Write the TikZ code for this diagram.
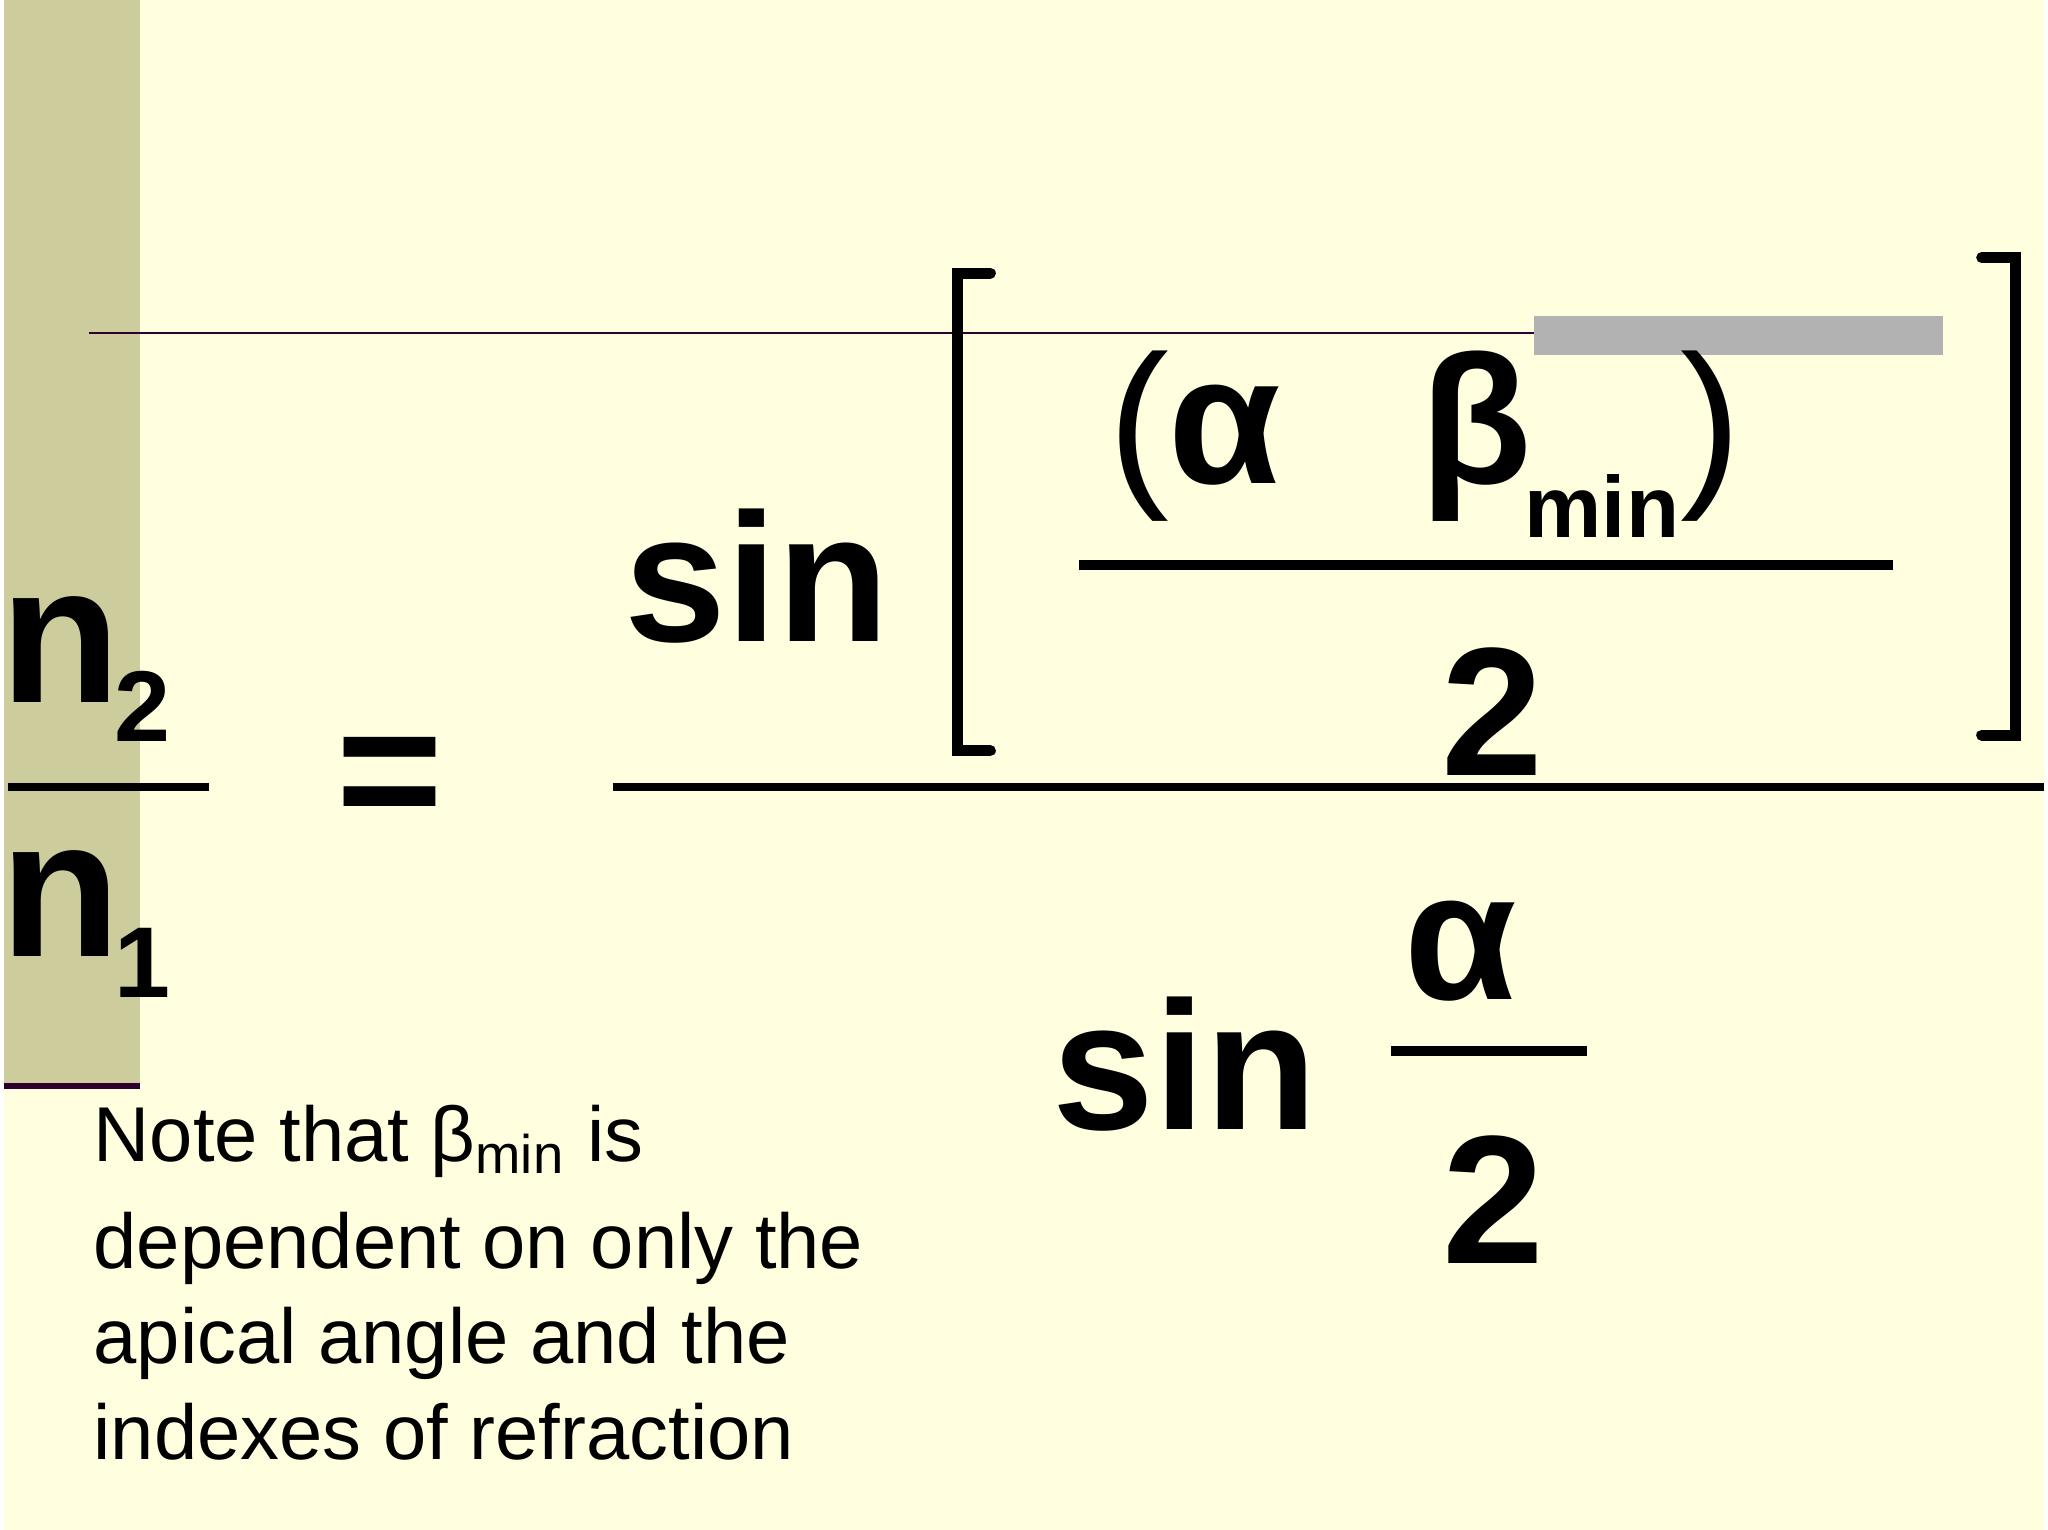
\documentclass[tikz,border=0pt]{standalone}
\usepackage{fontspec}
\setmainfont{Liberation Sans}
\begin{document}
\begin{tikzpicture}[x=0.01cm,y=-0.01cm,
  big/.style={inner sep=0pt,anchor=base west,font=\bfseries\fontsize{40}{48}\selectfont},
  par/.style={inner sep=0pt,anchor=base west,font=\fontsize{40}{48}\selectfont},
  nn/.style={inner sep=0pt,anchor=base west,font=\bfseries\fontsize{43}{50}\selectfont},
  sub/.style={inner sep=0pt,anchor=base west,font=\bfseries\fontsize{22}{28}\selectfont},
  msub/.style={inner sep=0pt,anchor=base west,font=\bfseries\fontsize{19}{24}\selectfont},
  note/.style={inner sep=0pt,anchor=base west,font=\fontsize{17}{21}\selectfont},
  bar/.style={line width=2.2pt},
  brk/.style={line width=2.4pt,line cap=round}]
\definecolor{bg}{RGB}{255,255,224}
\definecolor{strip}{RGB}{204,204,156}
\definecolor{dpur}{RGB}{45,0,45}
\fill[bg] (0,0) rectangle (1568,1176);
\fill[strip] (0,0) rectangle (104,835);
\draw[dpur,line width=1.4pt] (0,835) -- (104,835);
\draw[dpur,line width=0.6pt] (65,256) -- (1490,256);
\fill[gray!60] (1176,243) rectangle (1490,273);
% brackets
\draw[brk] (758,210) -- (733,210) -- (733,577) -- (758,577);
\draw[brk] (1520,198) -- (1546,198) -- (1546,565) -- (1520,565);
% top numerator
\node[big] (s1) at (476,493) {sin};
\node[par] (pa) at (848,372) {(};
\node[big] (al1) at (894,372) {α};
\node[big] (be) at (1088,372) {β};
\node[msub] (mi) at (1168,413) {min};
\node[par] (pb) at (1288,372) {)};
\draw[bar] (826,434) -- (1452,434);
\node[big] (t2) at (1104,596) {2};
% main bar
\draw[line width=1.7pt] (468,605) -- (1568,605);
% left side
\node[nn] (n2) at (-4,540) {n};
\node[sub] (s2) at (84,570) {2};
\draw[line width=1.7pt] (3,605) -- (157,605);
\node[nn] (n1) at (-4,735) {n};
\node[sub] (s1b) at (84,767) {1};
\node[big] (eq) at (255,640) {=};
% denominator
\node[big] (s3) at (805,868) {sin};
\node[big] (al) at (1076,768) {α};
\draw[bar] (1066,808) -- (1217,808);
\node[big] (b2) at (1105,971) {2};
% note
\node[note] (l1) at (68,893) {Note that β\textsubscript{min} is};
\node[note] (l2) at (68,975) {dependent on only the};
\node[note] (l3) at (68,1048) {apical angle and the};
\node[note] (l4) at (68,1122) {indexes of refraction};
\end{tikzpicture}
\end{document}
